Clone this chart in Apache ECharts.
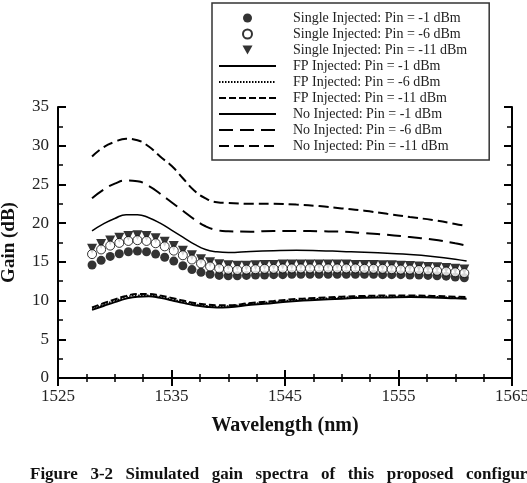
<!DOCTYPE html>
<html>
<head>
<meta charset="utf-8">
<script src="https://cdn.jsdelivr.net/npm/echarts@6/dist/echarts.min.js"></script>
<style>
  html, body { margin: 0; padding: 0; background: #fff; }
  #chart { width: 527px; height: 483px; }
</style>
</head>
<body>
<div id="chart"></div>
<script>
// marker grid (nm)
const wavelengths = [1528.0, 1528.8, 1529.6, 1530.4, 1531.2, 1532.0, 1532.8, 1533.6, 1534.4, 1535.2,
  1536.0, 1536.8, 1537.6, 1538.4, 1539.2, 1540.0, 1540.8, 1541.6, 1542.4, 1543.2,
  1544.0, 1544.8, 1545.6, 1546.4, 1547.2, 1548.0, 1548.8, 1549.6, 1550.4, 1551.2,
  1552.0, 1552.8, 1553.6, 1554.4, 1555.2, 1556.0, 1556.8, 1557.6, 1558.4, 1559.2,
  1560.0, 1560.8];
const singleM1 = [14.6, 15.2, 15.7, 16.05, 16.3, 16.4, 16.3, 16.0, 15.6, 15.1,
  14.5, 14.0, 13.65, 13.4, 13.25, 13.2, 13.2, 13.25, 13.3, 13.3,
  13.35, 13.35, 13.4, 13.4, 13.4, 13.4, 13.4, 13.4, 13.4, 13.4,
  13.4, 13.4, 13.35, 13.35, 13.35, 13.3, 13.3, 13.25, 13.2, 13.15,
  13.05, 12.95];
const singleM6 = [16.0, 16.6, 17.1, 17.45, 17.7, 17.8, 17.7, 17.4, 17.0, 16.45,
  15.85, 15.3, 14.8, 14.4, 14.15, 14.0, 13.95, 14.0, 14.05, 14.1,
  14.1, 14.15, 14.15, 14.15, 14.15, 14.15, 14.15, 14.15, 14.15, 14.15,
  14.1, 14.1, 14.1, 14.05, 14.0, 14.0, 13.95, 13.9, 13.85, 13.75,
  13.65, 13.55];
const singleM11 = [16.7, 17.3, 17.75, 18.1, 18.35, 18.45, 18.35, 18.05, 17.6, 17.05,
  16.45, 15.85, 15.35, 14.95, 14.7, 14.55, 14.5, 14.5, 14.55, 14.6,
  14.6, 14.65, 14.65, 14.65, 14.65, 14.65, 14.65, 14.65, 14.65, 14.6,
  14.6, 14.6, 14.55, 14.55, 14.5, 14.45, 14.4, 14.35, 14.3, 14.2,
  14.1, 14.0];

// curve grid (nm)
const lineWavelengths = [1528, 1529, 1530, 1531, 1532, 1533, 1534, 1535, 1536, 1537, 1538, 1539, 1540,
  1542, 1544, 1546, 1548, 1550, 1552, 1554, 1556, 1558, 1560, 1561];
const fpM1 = [8.8, 9.3, 9.8, 10.25, 10.5, 10.55, 10.35, 10.05, 9.7, 9.4, 9.2, 9.1, 9.15,
  9.45, 9.7, 9.95, 10.1, 10.25, 10.35, 10.4, 10.45, 10.4, 10.3, 10.25];
const fpM6 = [9.0, 9.5, 10.0, 10.45, 10.7, 10.7, 10.5, 10.2, 9.85, 9.55, 9.35, 9.25, 9.3,
  9.6, 9.85, 10.1, 10.25, 10.4, 10.5, 10.55, 10.55, 10.5, 10.4, 10.35];
const fpM11 = [9.1, 9.65, 10.15, 10.6, 10.85, 10.85, 10.65, 10.35, 10.0, 9.7, 9.5, 9.4, 9.4,
  9.7, 9.95, 10.2, 10.35, 10.5, 10.6, 10.65, 10.65, 10.6, 10.5, 10.45];
const noM1 = [19.0, 19.9, 20.6, 21.1, 21.1, 20.7, 20.0, 19.1, 18.2, 17.3, 16.6, 16.3, 16.2,
  16.35, 16.45, 16.5, 16.45, 16.35, 16.25, 16.1, 15.95, 15.7, 15.35, 15.1];
const noM6 = [23.2, 24.3, 25.1, 25.5, 25.4, 24.8, 23.8, 22.7, 21.6, 20.5, 19.6, 19.1, 18.95,
  18.9, 19.0, 19.0, 18.95, 18.9, 18.7, 18.5, 18.2, 17.9, 17.4, 17.1];
const noM11 = [28.6, 29.8, 30.5, 30.9, 30.7, 29.9, 28.6, 27.4, 25.8, 24.2, 23.2, 22.7, 22.6,
  22.5, 22.5, 22.4, 22.2, 21.9, 21.6, 21.2, 20.8, 20.4, 19.9, 19.6];

const legendNames = [
  'Single Injected: Pin = -1 dBm',
  'Single Injected: Pin = -6 dBm',
  'Single Injected: Pin = -11 dBm',
  'FP Injected: Pin = -1 dBm',
  'FP Injected: Pin = -6 dBm',
  'FP Injected: Pin = -11 dBm',
  'No Injected: Pin = -1 dBm',
  'No Injected: Pin = -6 dBm',
  'No Injected: Pin = -11 dBm'
];
const captionWords = ['Figure', '3-2', 'Simulated', 'gain', 'spectra', 'of', 'this', 'proposed', 'configuration'];

const serif = '"Liberation Serif", "DejaVu Serif", serif';
const zip = (xs, ys) => xs.map((x, i) => [x, ys[i]]);

const lineSeries = (name, values, type, width) => ({
  name,
  type: 'line',
  smooth: true,
  symbol: 'none',
  data: zip(lineWavelengths, values),
  lineStyle: { color: '#000', width, type },
  itemStyle: { color: '#000' },
  z: 2
});

/* 图注：两端对齐排版 */
const captionFont = 'bold 17px ' + serif;
const measure = document.createElement('canvas').getContext('2d');
measure.font = captionFont;
const wordWidths = captionWords.map(w => measure.measureText(w).width);
const capLeft = 30, lastWordLeft = 466;
const gap = (lastWordLeft - capLeft - wordWidths.slice(0, -1).reduce((a, b) => a + b, 0)) / (captionWords.length - 1);
let cursor = capLeft;
const captionGraphics = captionWords.map((w, i) => {
  const el = { type: 'text', x: cursor, y: 466, style: { text: w, font: captionFont, fill: '#111' } };
  cursor += wordWidths[i] + gap;
  return el;
});

const chart = echarts.init(document.getElementById('chart'), null, { renderer: 'canvas' });

const axisCommon = {
  axisLine: { lineStyle: { color: '#000', width: 2 } },
  axisTick: { inside: true, length: 8, lineStyle: { color: '#000', width: 2 } },
  splitLine: { show: false }
};

const legendData = legendNames.map((name, i) => {
  if (i >= 3) return { name, itemStyle: { opacity: 0 } };
  if (i === 2) return { name, icon: 'path://M0,0L10,0L5,9Z', symbolRotate: 0 };
  return { name };
});

chart.setOption({
  animation: false,
  backgroundColor: '#fff',
  grid: { left: 58, right: 15, top: 107, bottom: 105, containLabel: false, outerBoundsMode: 'none' },
  legend: {
    orient: 'vertical',
    left: 212,
    top: 3,
    itemWidth: 57,
    itemHeight: 9,
    itemGap: 2,
    padding: [8, 22, 7, 6],
    backgroundColor: '#fff',
    borderColor: '#333',
    borderWidth: 1.5,
    selectedMode: false,
    symbolKeepAspect: true,
    textStyle: { fontFamily: serif, fontSize: 14, color: '#222', lineHeight: 14, padding: [0, 0, 0, 12] },
    data: legendData
  },
  xAxis: [
    Object.assign({
      type: 'value', min: 1525, max: 1565, interval: 10,
      minorTick: { show: true, splitNumber: 4, length: 4, lineStyle: { color: '#000', width: 1.5 } },
      axisLabel: { fontFamily: serif, fontSize: 17, color: '#222', margin: 10, formatter: v => String(v) },
      name: 'Wavelength (nm)',
      nameLocation: 'middle',
      nameGap: 38,
      nameTextStyle: { fontFamily: serif, fontSize: 20, fontWeight: 'bold', color: '#111' }
    }, axisCommon),
    Object.assign({
      type: 'value', min: 1525, max: 1565, interval: 10, position: 'top',
      minorTick: { show: true, splitNumber: 4, length: 4, lineStyle: { color: '#000', width: 1.5 } },
      axisLabel: { show: false }
    }, axisCommon)
  ],
  yAxis: [
    Object.assign({
      type: 'value', min: 0, max: 35, interval: 5,
      minorTick: { show: true, splitNumber: 2, length: 5, lineStyle: { color: '#000', width: 1.5 } },
      axisLabel: { fontFamily: serif, fontSize: 17, color: '#222', margin: 9 },
      name: 'Gain (dB)',
      nameLocation: 'middle',
      nameGap: 39,
      nameTextStyle: { fontFamily: serif, fontSize: 19, fontWeight: 'bold', color: '#111' }
    }, axisCommon),
    Object.assign({
      type: 'value', min: 0, max: 35, interval: 5, position: 'right',
      minorTick: { show: true, splitNumber: 2, length: 5, lineStyle: { color: '#000', width: 1.5 } },
      axisLabel: { show: false }
    }, axisCommon)
  ],
  series: [
    lineSeries(legendNames[3], fpM1, 'solid', 2),
    lineSeries(legendNames[4], fpM6, [1.5, 1.5], 1.5),
    lineSeries(legendNames[5], fpM11, [7, 3], 2),
    lineSeries(legendNames[6], noM1, 'solid', 1.5),
    lineSeries(legendNames[7], noM6, [14, 7], 2),
    lineSeries(legendNames[8], noM11, [10, 5], 2),
    {
      name: legendNames[2],
      type: 'scatter',
      symbol: 'triangle',
      symbolRotate: 180,
      symbolSize: 10,
      data: zip(wavelengths, singleM11),
      itemStyle: { color: '#000' },
      z: 3
    },
    {
      name: legendNames[0],
      type: 'scatter',
      symbol: 'circle',
      symbolSize: 9,
      data: zip(wavelengths, singleM1),
      itemStyle: { color: '#000' },
      z: 3
    },
    {
      name: legendNames[1],
      type: 'scatter',
      symbol: 'circle',
      symbolSize: 9,
      data: zip(wavelengths, singleM6),
      itemStyle: { color: '#fff', borderColor: '#000', borderWidth: 1 },
      z: 4
    }
  ],
  graphic: captionGraphics
});
</script>
</body>
</html>
